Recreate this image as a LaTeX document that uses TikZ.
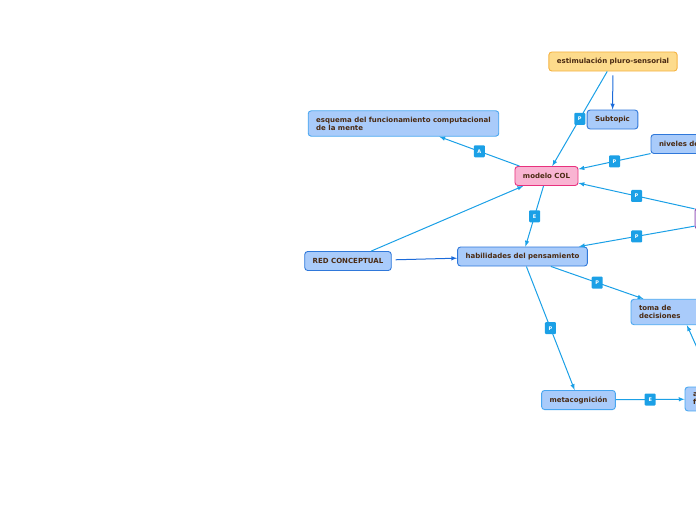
\documentclass[tikz,border=0pt]{standalone}
\usepackage{fontspec}
\newfontfamily\mapfont{DejaVu Sans}
\definecolor{linkblue}{HTML}{1BA0E6}
\definecolor{darklink}{HTML}{1C6BDA}
\definecolor{bluefill}{HTML}{A9CBFA}
\definecolor{blueline}{HTML}{2F78DA}
\definecolor{lightline}{HTML}{48A6F0}
\definecolor{pinkfill}{HTML}{F9B4D2}
\definecolor{pinkline}{HTML}{E8317E}
\definecolor{yellowfill}{HTML}{FDDB8C}
\definecolor{yellowline}{HTML}{F5B342}
\definecolor{purplefill}{HTML}{DCC3F0}
\definecolor{purpleline}{HTML}{8E4FB0}
\definecolor{labeltext}{HTML}{4A2A12}

\begin{document}
\begin{tikzpicture}[
		x=1pt,y=-1pt,
		topic/.style={draw=blueline,fill=bluefill,rounded corners=3pt,line width=0.9pt,
			text=labeltext,font=\mapfont\bfseries\fontsize{7}{8}\selectfont,
			inner xsep=8pt,inner ysep=6pt,minimum height=19pt},
		subtopic/.style={topic,draw=lightline},
		central/.style={topic,draw=pinkline,fill=pinkfill},
		floating/.style={topic,draw=yellowline,fill=yellowfill},
		link/.style={->,>=latex,draw=linkblue,line width=1pt},
		mainlink/.style={->,>=latex,draw=darklink,line width=1pt,shorten <=4pt},
		tag/.style={fill=linkblue,text=white,font=\mapfont\bfseries\fontsize{5}{5}\selectfont,
			minimum width=11pt,minimum height=12pt,inner sep=0pt,rounded corners=1pt}
	]
		\useasboundingbox (0,0) rectangle (696,520);
		\clip (0,0) rectangle (696,520);

		% tema central
		\node[central] (col) at (546.5,176) {modelo COL};

		% temas
		\node[floating] (est) at (613,61.5) {estimulación pluro-sensorial};
		\node[topic] (sub) at (612.5,119.5) {Subtopic};
		\node[subtopic,align=left] (esq) at (403.5,123.5) {esquema del funcionamiento computacional\\de la mente};
		\node[topic,text width=72pt,align=left] (niv) at (695,144) {niveles de};
		\node[topic,draw=purpleline,fill=purplefill,minimum width=86pt,minimum height=21pt] (pur) at (738,218.5) {};
		\node[topic] (red) at (348,261) {RED CONCEPTUAL};
		\node[topic] (hab) at (522.5,256.5) {habilidades del pensamiento};
		\node[subtopic,text width=84pt,align=left] (toma) at (681,312) {toma de\\decisiones};
		\node[subtopic] (meta) at (578.5,400) {metacognición};
		\node[subtopic,text width=54pt,align=left] (rgt) at (720,399) {a\\f};

		% relaciones
		\draw[link] (est) -- (col) node[midway,tag] {P};
		\draw[mainlink] (est) -- (sub);
		\draw[link] (col) -- (esq) node[midway,tag] {A};
		\draw[link] (niv) -- (col) node[midway,tag] {P};
		\draw[link] (pur) -- (col) node[midway,tag] {P};
		\draw[link] (pur) -- (hab) node[midway,tag] {P};
		\draw[link] (col) -- (hab) node[midway,tag] {E};
		\draw[link] (red) -- (col);
		\draw[mainlink] (red) -- (hab);
		\draw[link] (hab) -- (toma) node[midway,tag] {P};
		\draw[link] (hab) -- (meta) node[midway,tag] {P};
		\draw[link] (meta) -- (rgt) node[midway,tag] {E};
		\draw[link] (rgt) -- (toma);
	\end{tikzpicture}
\end{document}
